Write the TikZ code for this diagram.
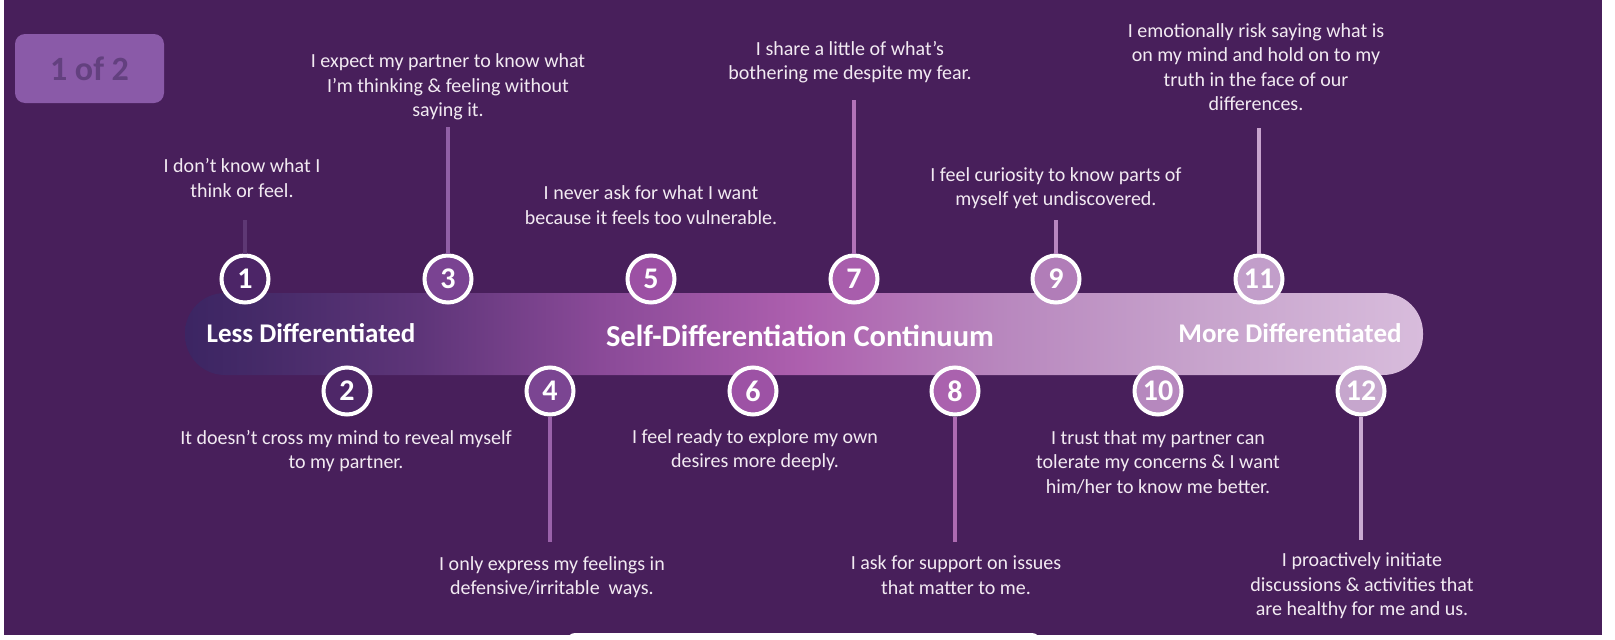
\documentclass[tikz,border=0pt]{standalone}
\usepackage{fontspec}
\setmainfont{Carlito}
\definecolor{bg}{HTML}{481F5B}
\definecolor{txt}{HTML}{F2EAF2}
\definecolor{tagfill}{HTML}{8A5AA8}
\definecolor{tagtext}{HTML}{63407F}
\definecolor{b0}{HTML}{3C2563}
\definecolor{b1}{HTML}{452A68}
\definecolor{b2}{HTML}{5E3579}
\definecolor{b3}{HTML}{8A4A98}
\definecolor{b4}{HTML}{AD5FAE}
\definecolor{b5}{HTML}{B887BE}
\definecolor{b6}{HTML}{C7A3CC}
\definecolor{b7}{HTML}{D8BCDC}
\definecolor{f1}{HTML}{4C2567}
\definecolor{f2}{HTML}{4E2768}
\definecolor{f3}{HTML}{7A4392}
\definecolor{f4}{HTML}{7B4592}
\definecolor{f5}{HTML}{9C50A4}
\definecolor{f6}{HTML}{9D52A5}
\definecolor{f7}{HTML}{A85DAC}
\definecolor{f8}{HTML}{AA62AE}
\definecolor{f9}{HTML}{B17DB8}
\definecolor{f10}{HTML}{B688BE}
\definecolor{f11}{HTML}{C29ECA}
\definecolor{f12}{HTML}{C6A6CD}
\definecolor{s1}{HTML}{5E3874}
\definecolor{s3}{HTML}{9160A6}
\definecolor{s4}{HTML}{9A62AA}
\definecolor{s7}{HTML}{B272B8}
\definecolor{s8}{HTML}{AD6AB2}
\definecolor{s9}{HTML}{B886C0}
\definecolor{s11}{HTML}{C8A4CE}
\definecolor{s12}{HTML}{CAAAD2}
\pgfdeclarehorizontalshading{barshade}{100bp}{color(0bp)=(b0); color(25bp)=(b0); color(28bp)=(b1); color(34.5bp)=(b2); color(41.8bp)=(b3); color(49.8bp)=(b4); color(57.9bp)=(b5); color(66bp)=(b6); color(75bp)=(b7); color(100bp)=(b7)}
\tikzset{
  num/.style={circle, draw=white, line width=4pt, minimum size=47pt, inner sep=0pt, text=white, font=\fontsize{30}{30}\selectfont\bfseries},
  desc/.style={align=center, text=txt, font=\fontsize{20}{24.5}\selectfont, inner sep=0pt},
  stem/.style={line width=4pt},
  barlabel/.style={text=white, inner sep=0pt, font=\fontsize{27}{27}\selectfont\bfseries},
  bigbarlabel/.style={text=white, inner sep=0pt, font=\fontsize{30.5}{30.5}\selectfont\bfseries}
}
\begin{document}
\begin{tikzpicture}[x=1pt,y=-1pt]
\useasboundingbox (0,0) rectangle (1615,640);
\clip (0,0) rectangle (1615,640);
\fill[white] (0,0) rectangle (1615,640);
\fill[bg] (4,0) rectangle (1602,635);
% page tag
\node[fill=tagfill, rounded corners=10pt, minimum width=149pt, minimum height=69pt, inner sep=0pt, text=tagtext, font=\fontsize{34}{34}\selectfont\bfseries] (tag) at (89.5,68.5) {1 of 2};
% bar
\shade[shading=barshade, rounded corners=40pt] (185,293) rectangle (1423,375);
\node[barlabel] (less) at (311,333) {Less Differentiated};
\node[bigbarlabel] (cont) at (800,336) {Self-Differentiation Continuum};
\node[barlabel] (more) at (1290,333) {More Differentiated};
% circles
\node[num, fill=f1] (c1) at (245,279) {1};
\node[num, fill=f3] (c3) at (448,279) {3};
\node[num, fill=f5] (c5) at (651,279) {5};
\node[num, fill=f7] (c7) at (854,279) {7};
\node[num, fill=f9] (c9) at (1056,279) {9};
\node[num, fill=f11] (c11) at (1259,279) {11};
\node[num, fill=f2] (c2) at (347,391) {2};
\node[num, fill=f4] (c4) at (550,391) {4};
\node[num, fill=f6] (c6) at (753,391) {6};
\node[num, fill=f8] (c8) at (955,391) {8};
\node[num, fill=f10] (c10) at (1158,391) {10};
\node[num, fill=f12] (c12) at (1361,391) {12};
% texts
\node[desc] (t1) at (242,178) {I don’t know what I\\think or feel.};
\node[desc] (t3) at (448,87) {I expect my partner to know what\\I’m thinking \& feeling without\\saying it.};
\node[desc] (t5) at (651,205) {I never ask for what I want\\because it feels too vulnerable.};
\node[desc] (t7) at (850,62) {I share a little of what’s\\bothering me despite my fear.};
\node[desc] (t9) at (1056,188) {I feel curiosity to know parts of\\myself yet undiscovered.};
\node[desc] (t11) at (1256,67) {I emotionally risk saying what is\\on my mind and hold on to my\\truth in the face of our\\differences.};
\node[desc] (t2) at (346,451) {It doesn’t cross my mind to reveal myself\\to my partner.};
\node[desc] (t4) at (552,577) {I only express my feelings in\\defensive/irritable\ \ ways.};
\node[desc] (t6) at (755,450) {I feel ready to explore my own\\desires more deeply.};
\node[desc] (t8) at (956,575) {I ask for support on issues\\that matter to me.};
\node[desc] (t10) at (1158,462) {I trust that my partner can\\tolerate my concerns \& I want\\him/her to know me better.};
\node[desc] (t12) at (1362,586) {I proactively initiate\\discussions \& activities that\\are healthy for me and us.};
% stems
\coordinate (l1) at (245,220);
\coordinate (l3) at (448,127);
\coordinate (l7) at (854,100);
\coordinate (l9) at (1056,220);
\coordinate (l11) at (1259,128);
\coordinate (l4) at (550,542);
\coordinate (l8) at (955,542);
\coordinate (l12) at (1361,540);
\draw[stem, s1] (l1) -- (c1);
\draw[stem, s3] (l3) -- (c3);
\draw[stem, s7] (l7) -- (c7);
\draw[stem, s9] (l9) -- (c9);
\draw[stem, s11] (l11) -- (c11);
\draw[stem, s4] (l4) -- (c4);
\draw[stem, s8] (l8) -- (c8);
\draw[stem, s12] (l12) -- (c12);
% bottom white tab
\fill[white, rounded corners=8pt] (567,633) rectangle (1040,660);
\end{tikzpicture}
\end{document}
